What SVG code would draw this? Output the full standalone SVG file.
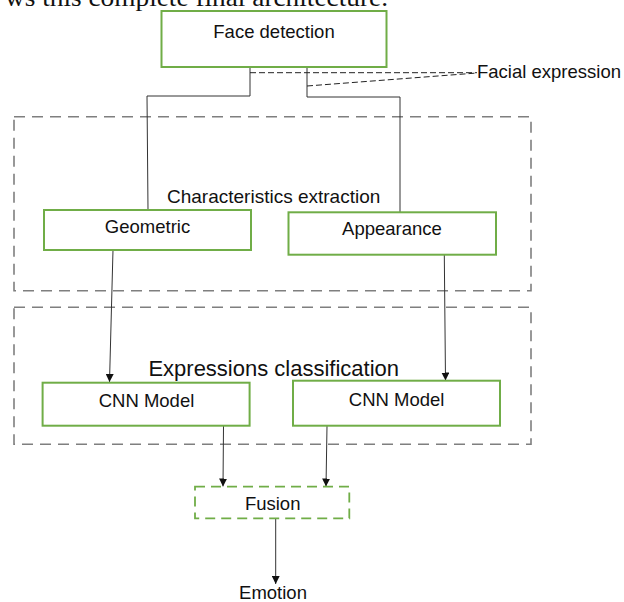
<svg xmlns="http://www.w3.org/2000/svg" width="624" height="602" viewBox="0 0 624 602">
<defs>
<style>
.node{fill:#fff;stroke:#70AD47;stroke-width:2}
.grp{fill:none;stroke:#7f7f7f;stroke-width:1.6;stroke-dasharray:11 7}
.fus{fill:#fff;stroke:#70AD47;stroke-width:1.8;stroke-dasharray:10 6}
.t{font-family:"Liberation Sans",Arial,sans-serif;font-size:18.5px;fill:#111}
.ln{fill:none;stroke:#333;stroke-width:1}
.dl{fill:none;stroke:#222;stroke-width:1;stroke-dasharray:6 3}
.ar{fill:none;stroke:#333;stroke-width:1;marker-end:url(#ah)}
</style>
<marker id="ah" markerUnits="userSpaceOnUse" markerWidth="9" markerHeight="8" refX="8" refY="4" orient="auto">
<path d="M0,0 L8,4 L0,8 z" fill="#111"/>
</marker>
</defs>
<rect width="624" height="602" fill="#fff"/>
<text x="5" y="6" font-family="'Liberation Serif','Times New Roman',serif" font-size="26" fill="#111" textLength="383" lengthAdjust="spacingAndGlyphs">ws this complete final architecture.</text>

<g id="group-characteristics">
<rect class="grp" x="14" y="116.7" width="517" height="174"/>
<text class="t" x="167" y="203" style="font-size:19px">Characteristics extraction</text>
</g>
<g id="group-classification">
<rect class="grp" x="14" y="307.3" width="517" height="137"/>
<text class="t" x="148.4" y="376" style="font-size:22px">Expressions classification</text>
</g>

<g id="connectors">
<polyline class="ln" points="250,67 250,96 147,96 148,210"/>
<polyline class="ln" points="307,67 307,97 400,97 400,212"/>
<line class="dl" x1="250" y1="72.7" x2="477" y2="72.7"/>
<line class="dl" x1="307" y1="86" x2="477" y2="73"/>
<line class="ar" x1="113" y1="250" x2="109.5" y2="382"/>
<line class="ar" x1="444.3" y1="255" x2="445.5" y2="380.5"/>
<line class="ar" x1="223.5" y1="426" x2="223" y2="486.5"/>
<line class="ar" x1="327" y1="426" x2="326" y2="486.5"/>
<line class="ar" x1="275.7" y1="518.5" x2="275.7" y2="584"/>
</g>

<g id="face-detection">
<rect class="node" x="161.5" y="11" width="225" height="56"/>
<text class="t" x="274" y="38" text-anchor="middle">Face detection</text>
</g>
<g id="facial-expression">
<text class="t" x="477" y="78">Facial expression</text>
</g>
<g id="geometric">
<rect class="node" x="44" y="210" width="207" height="40"/>
<text class="t" x="147.5" y="233" text-anchor="middle">Geometric</text>
</g>
<g id="appearance">
<rect class="node" x="288.5" y="212.3" width="207.5" height="42.4"/>
<text class="t" x="392" y="235" text-anchor="middle">Appearance</text>
</g>
<g id="cnn-left">
<rect class="node" x="42.6" y="382.7" width="207" height="43"/>
<text class="t" x="146.5" y="407" text-anchor="middle">CNN Model</text>
</g>
<g id="cnn-right">
<rect class="node" x="293" y="380.7" width="207" height="45"/>
<text class="t" x="396.6" y="405.7" text-anchor="middle">CNN Model</text>
</g>
<g id="fusion">
<rect class="fus" x="195" y="486.7" width="154.3" height="31.6"/>
<text class="t" x="272.7" y="510" text-anchor="middle">Fusion</text>
</g>
<g id="emotion">
<text class="t" x="273" y="599" text-anchor="middle">Emotion</text>
</g>
</svg>
